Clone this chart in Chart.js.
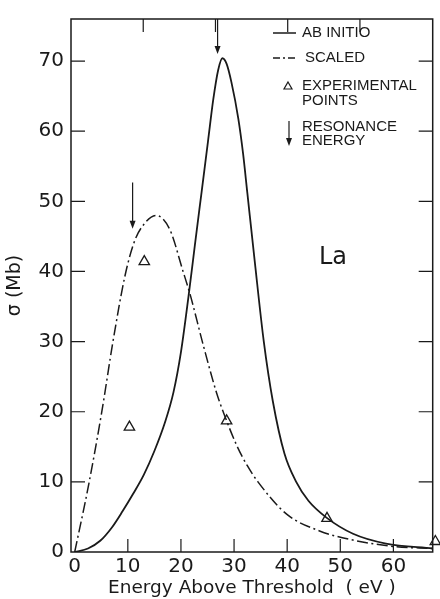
<!DOCTYPE html>
<html>
<head>
<meta charset="utf-8">
<title>La cross section</title>
<script src="https://cdn.jsdelivr.net/npm/chart.js@4.4.1/dist/chart.umd.min.js"></script>
<style>
  html, body { margin: 0; padding: 0; background: #fff; }
  #chart { display: block; }
</style>
</head>
<body>
<canvas id="chart" width="440" height="599"></canvas>
<script>
// 坐标轴刻度
const xTicks = [0, 10, 20, 30, 40, 50, 60];
const yTicks = [0, 10, 20, 30, 40, 50, 60, 70];
const topTicks = [12.9, 26.5, 40.1, 53.7];

// AB INITIO 曲线 (eV, Mb)
const abEnergy = [0, 2.5, 4.8, 7.0, 9.0, 11.0, 13.0, 15.0, 17.0, 18.6, 20.0, 21.4, 22.6, 23.9, 25.1, 26.1, 27.0, 27.8, 28.6, 29.5, 30.8, 31.7, 32.5, 33.9, 35.6, 37.3, 39.5, 41.7, 44.0, 47.4, 52.4, 58.6, 67.4];
const abSigma = [0, 0.5, 1.6, 3.5, 5.8, 8.3, 11.0, 14.4, 18.5, 22.8, 28.5, 36.3, 43.6, 51.4, 58.6, 64.6, 68.7, 70.4, 69.6, 67.0, 61.8, 56.8, 51.2, 41.4, 30.0, 21.5, 14.0, 10.0, 7.3, 4.9, 2.6, 1.2, 0.5];

// SCALED 曲线 (eV, Mb)
const scaledEnergy = [0, 2.6, 5.1, 7.2, 9.5, 11.3, 12.9, 15.3, 17.9, 20.4, 21.7, 24.2, 26.7, 28.0, 30.5, 32.5, 34.5, 39.9, 46.1, 52.4, 59.9, 67.4];
const scaledSigma = [0, 9.5, 20.0, 30.0, 39.5, 44.4, 46.6, 48.0, 46.0, 40.0, 36.8, 29.5, 22.7, 19.9, 15.2, 12.3, 10.0, 5.4, 3.0, 1.7, 0.8, 0.5];

// 实验点
const expEnergy = [10.3, 13.1, 28.6, 47.5, 67.9];
const expSigma = [17.8, 41.4, 18.7, 4.8, 1.5];

// 共振能量箭头 (起点 / 箭头尖)
const resEnergy = [10.9, 26.9];
const resTop = [52.7, 76];
const resTip = [46.1, 71.0];

document.addEventListener('DOMContentLoaded', function() {
    const ink = '#1a1a1a';
    const dashDot = [11, 3.5, 2, 3.5];

    function toPoints(xs, ys) {
        return xs.map((v, i) => ({ x: v, y: ys[i] }));
    }

    // 画箭头
    function drawArrow(ctx, px, yTop, yTip) {
        ctx.beginPath();
        ctx.moveTo(px, yTop);
        ctx.lineTo(px, yTip - 7);
        ctx.stroke();
        ctx.beginPath();
        ctx.moveTo(px - 3, yTip - 8);
        ctx.lineTo(px + 3, yTip - 8);
        ctx.lineTo(px, yTip);
        ctx.closePath();
        ctx.fill();
    }

    // 边框、内刻度、箭头、图例
    const decorPlugin = {
        id: 'decor',
        afterDatasetsDraw(chart) {
            const { ctx, chartArea: a, scales: { x, y } } = chart;
            ctx.save();
            ctx.strokeStyle = ink;
            ctx.fillStyle = ink;
            ctx.lineWidth = 1.5;
            ctx.strokeRect(a.left, a.top, a.right - a.left, a.bottom - a.top);

            ctx.lineWidth = 1.2;
            ctx.beginPath();
            yTicks.forEach(v => {
                if (v === 0) return;
                const py = y.getPixelForValue(v);
                ctx.moveTo(a.left, py); ctx.lineTo(a.left + 14, py);
                ctx.moveTo(a.right, py); ctx.lineTo(a.right - 14, py);
            });
            xTicks.forEach(v => {
                if (v === 0) return;
                const px = x.getPixelForValue(v);
                ctx.moveTo(px, a.bottom); ctx.lineTo(px, a.bottom - 13);
            });
            topTicks.forEach(v => {
                const px = x.getPixelForValue(v);
                ctx.moveTo(px, a.top); ctx.lineTo(px, a.top + 13);
            });
            ctx.stroke();

            resEnergy.forEach((e, i) => {
                drawArrow(ctx, x.getPixelForValue(e), y.getPixelForValue(resTop[i]), y.getPixelForValue(resTip[i]));
            });

            // 图例
            ctx.lineWidth = 1.5;
            ctx.beginPath();
            ctx.moveTo(273, 33); ctx.lineTo(296, 33);
            ctx.stroke();
            ctx.setLineDash([7, 3, 2, 3]);
            ctx.beginPath();
            ctx.moveTo(273, 58); ctx.lineTo(296, 58);
            ctx.stroke();
            ctx.setLineDash([]);
            ctx.lineWidth = 1.2;
            ctx.beginPath();
            ctx.moveTo(288, 82); ctx.lineTo(292, 89); ctx.lineTo(284, 89); ctx.closePath();
            ctx.stroke();
            drawArrow(ctx, 289, 121, 146);

            ctx.font = '15px "Liberation Sans", Arial, sans-serif';
            ctx.textBaseline = 'middle';
            ctx.textAlign = 'left';
            ctx.fillText('AB INITIO', 302, 33);
            ctx.fillText('SCALED', 305, 58);
            ctx.fillText('EXPERIMENTAL', 302, 86);
            ctx.fillText('POINTS', 302, 101);
            ctx.fillText('RESONANCE', 302, 127);
            ctx.fillText('ENERGY', 302, 141);

            ctx.font = '24px "DejaVu Sans", sans-serif';
            ctx.fillText('La', 319, 258);
            ctx.restore();
        }
    };

    const ctx = document.getElementById('chart').getContext('2d');
    new Chart(ctx, {
        type: 'line',
        data: {
            datasets: [{
                label: 'AB INITIO',
                data: toPoints(abEnergy, abSigma),
                borderColor: ink,
                borderWidth: 1.8,
                pointRadius: 0,
                cubicInterpolationMode: 'monotone',
                fill: false
            }, {
                label: 'SCALED',
                data: toPoints(scaledEnergy, scaledSigma),
                borderColor: ink,
                borderWidth: 1.5,
                borderDash: dashDot,
                pointRadius: 0,
                cubicInterpolationMode: 'monotone',
                fill: false
            }, {
                label: 'EXPERIMENTAL POINTS',
                data: toPoints(expEnergy, expSigma),
                showLine: false,
                pointStyle: 'triangle',
                pointRadius: 6,
                pointBorderWidth: 1.3,
                pointBorderColor: ink,
                pointBackgroundColor: 'rgba(0,0,0,0)',
                clip: false
            }]
        },
        options: {
            responsive: false,
            animation: false,
            layout: { padding: { top: 11, right: 7, left: 0, bottom: 0 } },
            plugins: {
                legend: { display: false },
                tooltip: { enabled: false }
            },
            scales: {
                x: {
                    type: 'linear',
                    min: -0.7,
                    max: 67.4,
                    afterBuildTicks: s => { s.ticks = xTicks.map(v => ({ value: v })); },
                    afterFit: s => { s.height = 47; },
                    grid: { display: false, drawTicks: false },
                    border: { display: false },
                    ticks: {
                        color: ink,
                        padding: 3,
                        maxRotation: 0,
                        font: { family: '"DejaVu Sans", sans-serif', size: 20 }
                    },
                    title: {
                        display: true,
                        text: 'Energy Above Threshold  ( eV )',
                        color: ink,
                        padding: { top: 0, bottom: 0 },
                        font: { family: '"DejaVu Sans", sans-serif', size: 18.5 }
                    }
                },
                y: {
                    type: 'linear',
                    min: 0,
                    max: 76,
                    afterBuildTicks: s => { s.ticks = yTicks.map(v => ({ value: v })); },
                    afterFit: s => { s.width = 71; },
                    grid: { display: false, drawTicks: false },
                    border: { display: false },
                    ticks: {
                        color: ink,
                        padding: 7,
                        font: { family: '"DejaVu Sans", sans-serif', size: 20 }
                    },
                    title: {
                        display: true,
                        text: 'σ (Mb)',
                        color: ink,
                        padding: { top: 4, bottom: 0 },
                        font: { family: '"DejaVu Sans", sans-serif', size: 19 }
                    }
                }
            }
        },
        plugins: [decorPlugin]
    });
});
</script>
</body>
</html>
